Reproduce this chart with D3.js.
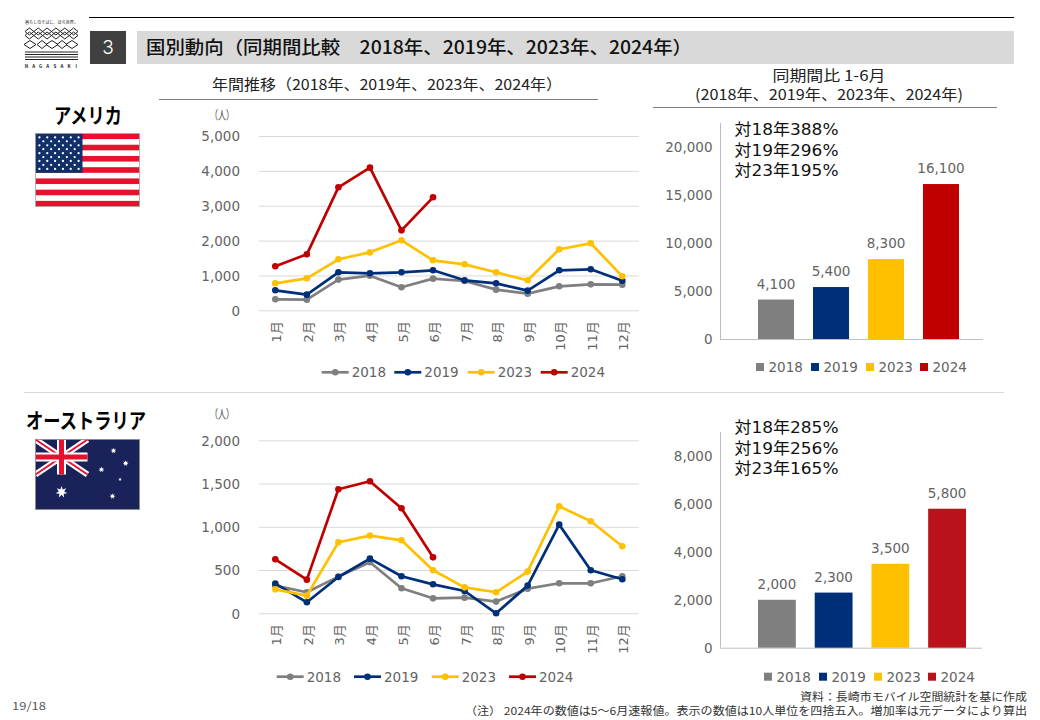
<!DOCTYPE html>
<html>
<head>
<meta charset="utf-8">
<script src="https://cdn.jsdelivr.net/npm/d3@7"></script>
<style>
    html, body { margin: 0; padding: 0; background: #fff; }
    svg { display: block; }
    text { font-family: "Noto Sans CJK JP", sans-serif; }
    .num { font-family: "DejaVu Sans", "Noto Sans CJK JP", sans-serif; fill: #636363; }
    .note { font-family: "DejaVu Sans", "Noto Sans CJK JP", sans-serif; fill: #111; }
    .tick line { stroke: #d9d9d9; }
    .domain { display: none; }
</style>
</head>
<body>
<svg id="chart" width="1040" height="720"></svg>
<script>
'use strict';

var months = ['1月','2月','3月','4月','5月','6月','7月','8月','9月','10月','11月','12月'];
var years = ['2018','2019','2023','2024'];
var yearColors = ['#7f7f7f','#002f7a','#ffc000','#c00000'];

// アメリカ 月別
var us2018 = [315,305,880,994,660,908,840,593,478,688,745,736];
var us2019 = [574,449,1090,1061,1090,1147,860,774,564,1147,1176,850];
var us2023 = [774,918,1463,1663,2008,1434,1319,1090,860,1750,1922,975];
var us2024 = [1262,1606,3528,4092,2294,3241];
var usTicks = [0,1000,2000,3000,4000,5000];

// オーストラリア 月別
var au2018 = [320,243,424,590,289,173,181,135,285,347,347,428];
var au2019 = [343,127,420,632,428,335,258,0,320,1025,497,393];
var au2023 = [277,204,821,898,844,497,300,243,482,1237,1064,775];
var au2024 = [624,389,1434,1526,1214,647];
var auTicks = [0,500,1000,1500,2000];

// 同期間比 1-6月
var usTotals = [4100,5400,8300,16100];
var usTotalTicks = [0,5000,10000,15000,20000];
var usNotes = ['対18年388%','対19年296%','対23年195%'];
var auTotals = [2000,2300,3500,5800];
var auTotalTicks = [0,2000,4000,6000,8000];
var auNotes = ['対18年285%','対19年256%','対23年165%'];

var svg = d3.select('#chart');
var fmt = d3.format(',');

function label(x, y, str, size, opts) {
    opts = opts || {};
    var t = svg.append('text')
        .attr('x', x).attr('y', y)
        .attr('font-size', size)
        .attr('fill', opts.fill || '#222')
        .attr('font-weight', opts.weight || 400)
        .attr('text-anchor', opts.anchor || 'start')
        .text(str);
    if (opts.len) t.attr('textLength', opts.len).attr('lengthAdjust', 'spacingAndGlyphs');
    return t;
}

function rule(x1, x2, y, color, w) {
    svg.append('line').attr('x1', x1).attr('x2', x2).attr('y1', y).attr('y2', y)
        .attr('stroke', color).attr('stroke-width', w);
}

//----- header
rule(89, 1014, 17.5, '#000', 1);
svg.append('rect').attr('x', 90).attr('y', 31).attr('width', 36).attr('height', 33).attr('fill', '#404040');
label(108, 54, '3', 19, {fill: '#fff', anchor: 'middle'}).style('font-family', 'Inter').attr('font-weight', 300);
svg.append('rect').attr('x', 137).attr('y', 31).attr('width', 877).attr('height', 33).attr('fill', '#d9d9d9');
label(146, 54, '国別動向（同期間比較　2018年、2019年、2023年、2024年）', 18, {fill: '#111', weight: 500, len: 546});

//----- logo
function drawLogo() {
    var g = svg.append('g').attr('fill', 'none').attr('stroke', '#222').attr('stroke-width', 1);
    label(25, 23.5, '暮らしのそばに、ほら世界。', 4, {fill: '#222', len: 53});
    [[25, 31.5, 6], [25, 35.5, 6]].forEach(function(r) {
        d3.range(r[2]).forEach(function(i) {
            var w = 53 / r[2], cx = r[0] + w * (i + .5);
            g.append('path').attr('d', 'M' + (cx - w / 2) + ',' + r[1] + 'L' + cx + ',' + (r[1] - 3.5) +
                'L' + (cx + w / 2) + ',' + r[1] + 'L' + cx + ',' + (r[1] + 3.5) + 'Z');
        });
    });
    [30, 42, 52, 62, 72].forEach(function(cx, i) {
        var w = i % 2 ? 5 : 6;
        g.append('path').attr('d', 'M' + (cx - w) + ',44.5L' + cx + ',40.5L' + (cx + w) + ',44.5L' + cx + ',48.5Z');
    });
    [52, 54.5, 57, 59.5].forEach(function(y) { rule(25, 78, y, '#222', 1); });
    'NAGASAKI'.split('').forEach(function(c, i) {
        label(26.5 + i * 7.1, 68, c, 4.5, {fill: '#222', anchor: 'middle', weight: 700});
    });
}
drawLogo();

//----- sub titles
label(212, 90, '年間推移（2018年、2019年、2023年、2024年）', 15, {len: 350});
rule(159, 598, 99.5, '#7f7f7f', 1);
label(829, 81, '同期間比 1-6月', 15, {anchor: 'middle', len: 113});
label(829, 100, '(2018年、2019年、2023年、2024年)', 15, {anchor: 'middle', len: 268});
rule(653, 997, 107.5, '#7f7f7f', 1);
rule(24, 1004, 392.5, '#d9d9d9', 1);

//----- country names
label(88, 123, 'アメリカ', 21, {anchor: 'middle', weight: 700, fill: '#000', len: 68});
label(86, 428, 'オーストラリア', 21, {anchor: 'middle', weight: 700, fill: '#000', len: 120});

//----- flags
function drawUsFlag(x, y, w, h) {
    var g = svg.append('g');
    var sy = d3.scaleBand().domain(d3.range(13)).range([y, y + h]);
    g.append('rect').attr('x', x).attr('y', y).attr('width', w).attr('height', h).attr('fill', '#fff');
    d3.range(0, 13, 2).forEach(function(i) {
        g.append('rect').attr('x', x).attr('y', sy(i)).attr('width', w).attr('height', sy.bandwidth()).attr('fill', '#e8112d');
    });
    var cw = w * .452, ch = sy.step() * 7;
    g.append('rect').attr('x', x).attr('y', y).attr('width', cw).attr('height', ch).attr('fill', '#10306b');
    d3.range(9).forEach(function(r) {
        var n = r % 2 ? 5 : 6;
        d3.range(n).forEach(function(c) {
            g.append('circle')
                .attr('cx', x + cw * ((r % 2 ? 2 : 1) + c * 2) / 12)
                .attr('cy', y + ch * (r + 1) / 10)
                .attr('r', 1.15).attr('fill', '#fff');
        });
    });
    g.append('rect').attr('x', x).attr('y', y).attr('width', w).attr('height', h)
        .attr('fill', 'none').attr('stroke', '#a6a6a6').attr('stroke-width', .8);
}

function star(cx, cy, r, n) {
    var pts = d3.range(n * 2).map(function(i) {
        var a = Math.PI * i / n - Math.PI / 2, rr = i % 2 ? r * .45 : r;
        return [cx + rr * Math.cos(a), cy + rr * Math.sin(a)];
    });
    return 'M' + pts.join('L') + 'Z';
}

function drawAuFlag(x, y, w, h) {
    var g = svg.append('g');
    g.append('rect').attr('x', x).attr('y', y).attr('width', w).attr('height', h).attr('fill', '#1a2359');
    var uw = w / 2, uh = h / 2;
    var diag = 'M' + x + ',' + y + 'L' + (x + uw) + ',' + (y + uh) + 'M' + (x + uw) + ',' + y + 'L' + x + ',' + (y + uh);
    var cross = 'M' + (x + uw / 2) + ',' + y + 'v' + uh + 'M' + x + ',' + (y + uh / 2) + 'h' + uw;
    g.append('path').attr('d', diag).attr('stroke', '#fff').attr('stroke-width', 6);
    g.append('path').attr('d', diag).attr('stroke', '#e8112d').attr('stroke-width', 2);
    g.append('path').attr('d', cross).attr('stroke', '#fff').attr('stroke-width', 9);
    g.append('path').attr('d', cross).attr('stroke', '#e8112d').attr('stroke-width', 5);
    var stars = [[.25, .75, 6, 7], [.75, .16, 3, 7], [.867, .34, 3, 7], [.634, .43, 3, 7], [.813, .57, 1.7, 5], [.74, .81, 3, 7]];
    stars.forEach(function(s) {
        g.append('path').attr('d', star(x + w * s[0], y + h * s[1], s[2], s[3])).attr('fill', '#fff');
    });
    g.append('rect').attr('x', x).attr('y', y).attr('width', w).attr('height', h)
        .attr('fill', 'none').attr('stroke', '#8c8c8c').attr('stroke-width', .8);
}

drawUsFlag(35.5, 133.5, 104, 73);
drawAuFlag(35.5, 439.5, 104, 70);

//----- line charts
function lineChart(o) {
    var x = d3.scalePoint().domain(months).range([275.3, 622.3]);
    var y = d3.scaleLinear().domain([0, o.max]).range([o.bottom, o.top]);

    svg.append('g').attr('transform', 'translate(259,0)')
        .call(d3.axisLeft(y).tickValues(o.ticks).tickFormat(fmt).tickSize(-379.7).tickPadding(19))
        .selectAll('text').attr('class', 'num').attr('font-size', 13.5).attr('dy', '.36em');

    var xAxis = svg.append('g').attr('transform', 'translate(0,' + o.bottom + ')')
        .call(d3.axisBottom(x).tickSize(0));
    xAxis.selectAll('text')
        .attr('class', 'num').attr('font-size', 13)
        .attr('text-anchor', 'end')
        .attr('transform', 'translate(1,11) rotate(-90)')
        .attr('x', 0).attr('y', 0).attr('dy', '.35em');

    var line = d3.line().x(function(d, i) { return x(months[i]); }).y(function(d) { return y(d); });

    o.series.forEach(function(s, k) {
        svg.append('path').datum(s)
            .attr('d', line).attr('fill', 'none')
            .attr('stroke', yearColors[k]).attr('stroke-width', 2.7).attr('stroke-linejoin', 'round');
        svg.selectAll(null).data(s).enter().append('circle')
            .attr('cx', function(d, i) { return x(months[i]); })
            .attr('cy', function(d) { return y(d); })
            .attr('r', 3.3).attr('fill', yearColors[k]);
    });

    years.forEach(function(yr, k) {
        var lx = o.legendX[k];
        svg.append('line').attr('x1', lx).attr('x2', lx + 27).attr('y1', o.legendY).attr('y2', o.legendY)
            .attr('stroke', yearColors[k]).attr('stroke-width', 2.7);
        svg.append('circle').attr('cx', lx + 13.5).attr('cy', o.legendY).attr('r', 3.3).attr('fill', yearColors[k]);
        label(lx + 30, o.legendY + 5, yr, 13.5, {fill: '#595959'}).attr('class', 'num');
    });

    label(210, o.unitY, '（人）', 12, {fill: '#404040', len: 24});
}

lineChart({
    series: [us2018, us2019, us2023, us2024], ticks: usTicks, max: 5000,
    top: 136, bottom: 310.3, legendX: [321.7, 394.3, 467.7, 540.7], legendY: 372.3, unitY: 120
});
lineChart({
    series: [au2018, au2019, au2023, au2024], ticks: auTicks, max: 2000,
    top: 440.3, bottom: 613.3, legendX: [276.7, 354, 431.7, 509], legendY: 676.7, unitY: 419
});

//----- bar charts
function barChart(o) {
    var x = d3.scaleBand().domain(years).range(o.barRange).paddingInner(o.inner).paddingOuter(0);
    var y = d3.scaleLinear().domain([0, o.ticks[o.ticks.length - 1]]).range([o.bottom, o.tickTop]);

    svg.append('g').attr('transform', 'translate(720.5,0)')
        .call(d3.axisLeft(y).tickValues(o.ticks).tickFormat(fmt).tickSize(0).tickPadding(8))
        .selectAll('text').attr('class', 'num').attr('font-size', 13.5).attr('dy', '.36em');

    svg.append('line').attr('x1', 720.5).attr('x2', 720.5).attr('y1', o.axisTop).attr('y2', o.bottom)
        .attr('stroke', '#bfbfbf').attr('stroke-width', 1);
    svg.append('line').attr('x1', 720).attr('x2', o.axisRight).attr('y1', o.bottom + .5).attr('y2', o.bottom + .5)
        .attr('stroke', '#bfbfbf').attr('stroke-width', 1);

    svg.selectAll(null).data(o.values).enter().append('rect')
        .attr('x', function(d, i) { return x(years[i]); })
        .attr('y', function(d) { return y(d); })
        .attr('width', x.bandwidth())
        .attr('height', function(d) { return o.bottom - y(d); })
        .attr('fill', function(d, i) { return o.colors[i]; });

    o.values.forEach(function(v, i) {
        label(x(years[i]) + x.bandwidth() / 2, y(v) - 11, fmt(v), 13.5, {fill: '#595959', anchor: 'middle'}).attr('class', 'num');
    });

    years.forEach(function(yr, k) {
        svg.append('rect').attr('x', o.legendX[k]).attr('y', o.legendY - 4).attr('width', 8).attr('height', 8).attr('fill', o.colors[k]);
        label(o.legendX[k] + 12.5, o.legendY + 5, yr, 13.5, {fill: '#595959'}).attr('class', 'num');
    });

    o.notes.forEach(function(n, i) {
        label(734.5, o.noteY + i * 20.5, n, 16, {len: 104}).attr('class', 'note');
    });
}

barChart({
    values: usTotals, ticks: usTotalTicks, notes: usNotes, colors: yearColors,
    barRange: [758, 959], inner: .345, bottom: 339, tickTop: 146.5, axisTop: 123, axisRight: 983,
    legendX: [756, 811, 866, 920], legendY: 367, noteY: 135
});
barChart({
    values: auTotals, ticks: auTotalTicks, notes: auNotes, colors: ['#7f7f7f','#002f7a','#ffc000','#b9121b'],
    barRange: [758, 966], inner: .333, bottom: 647.7, tickTop: 456, axisTop: 432, axisRight: 982,
    legendX: [764, 819, 874, 928], legendY: 676.7, noteY: 433
});

//----- footer
label(1027, 701, '資料：長崎市モバイル空間統計を基に作成', 11, {fill: '#333', anchor: 'end', len: 227});
label(1027, 715, '（注） 2024年の数値は5～6月速報値。表示の数値は10人単位を四捨五入。増加率は元データにより算出', 11, {fill: '#333', anchor: 'end', len: 562});
label(12, 710, '19/18', 11, {fill: '#595959', len: 34});
</script>
</body>
</html>
